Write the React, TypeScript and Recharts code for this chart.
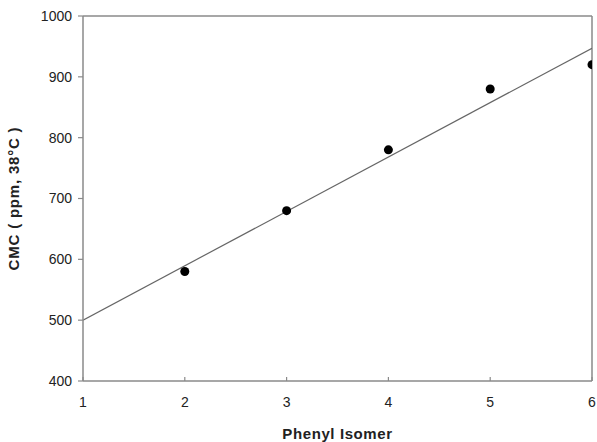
import {
  ComposedChart,
  Line,
  Scatter,
  XAxis,
  YAxis,
  ReferenceLine,
  Label,
} from "recharts";

const isomers = [2, 3, 4, 5, 6];
const cmcValues = [580, 680, 780, 880, 920];
const fitX = [1, 6];
const fitY = [500, 947];
const xTicks = [1, 2, 3, 4, 5, 6];
const yTicks = [400, 500, 600, 700, 800, 900, 1000];

const points = isomers.map((x, i) => ({ x, cmc: cmcValues[i] }));
const fitLine = fitX.map((x, i) => ({ x, fit: fitY[i] }));

const AXIS = "#8a8a8a";
const FONT = "'Liberation Sans', Arial, sans-serif";

function XTick(props: any) {
  const { x, y, payload } = props;
  return (
    <g>
      <line x1={x} y1={y} x2={x} y2={y - 4} stroke={AXIS} strokeWidth={1.2} />
      <text x={x} y={y + 26} textAnchor="middle" fill="#222" fontSize={14} fontFamily={FONT}>
        {payload.value}
      </text>
    </g>
  );
}

export default function App() {
  return (
    <div style={{ position: "absolute", left: 0, top: 0, width: 597, height: 442, background: "#fff" }}>
      <ComposedChart width={597} height={442} margin={{ top: 16, right: 5, left: 0, bottom: 0 }}>
        <XAxis
          dataKey="x"
          type="number"
          domain={[1, 6]}
          ticks={xTicks}
          allowDataOverflow
          tick={<XTick />}
          tickLine={false}
          tickSize={0}
          tickMargin={0}
          axisLine={{ stroke: AXIS, strokeWidth: 1.5 }}
          height={61}
        >
          <Label
            value="Phenyl Isomer"
            position="insideBottom"
            offset={3}
            style={{ fontFamily: FONT, fontWeight: "bold", fontSize: 15, letterSpacing: 0.6, fill: "#222" }}
          />
        </XAxis>
        <YAxis
          type="number"
          domain={[400, 1000]}
          ticks={yTicks}
          width={83}
          tickSize={5}
          tickMargin={6}
          tick={{ fill: "#222", fontSize: 14, fontFamily: FONT }}
          tickLine={{ stroke: AXIS, strokeWidth: 1.2 }}
          axisLine={{ stroke: AXIS, strokeWidth: 1.5 }}
        >
          <Label
            value="CMC ( ppm, 38°C )"
            angle={-90}
            position="insideLeft"
            offset={14}
            style={{ textAnchor: "middle", fontFamily: FONT, fontWeight: "bold", fontSize: 15, letterSpacing: 0.8, fill: "#222" }}
          />
        </YAxis>
        <ReferenceLine y={1000} stroke={AXIS} strokeWidth={1.5} />
        <ReferenceLine x={6} stroke={AXIS} strokeWidth={1.5} />
        <Line
          data={fitLine}
          dataKey="fit"
          type="linear"
          stroke="#666"
          strokeWidth={1.2}
          dot={false}
          activeDot={false}
          isAnimationActive={false}
        />
        <Scatter
          data={points}
          dataKey="cmc"
          fill="#000"
          shape={(p: any) => <circle cx={p.cx} cy={p.cy} r={4.5} fill="#000" />}
          isAnimationActive={false}
        />
      </ComposedChart>
    </div>
  );
}
